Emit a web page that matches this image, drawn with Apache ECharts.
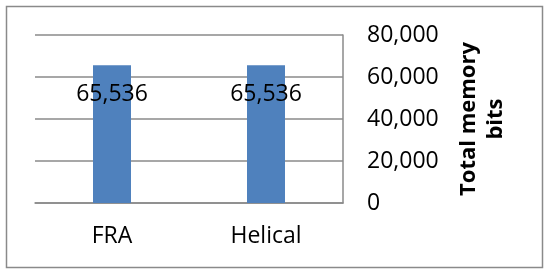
<!DOCTYPE html>
<html>
<head>
<meta charset="utf-8">
<script src="https://cdn.jsdelivr.net/npm/echarts@6/dist/echarts.min.js"></script>
<style>
  html, body { margin: 0; padding: 0; background: #fff; }
  #chart { width: 550px; height: 275px; }
</style>
</head>
<body>
<div id="chart"></div>
<script>
const categories = ['FRA', 'Helical']
const memoryBits = [65536, 65536]
const yMin = 0
const yMax = 80000
const yStep = 20000

const font = "'Open Sans', 'Liberation Sans', sans-serif"
const lineColor = '#8a8a8a'
const fmt = v => v.toLocaleString('en-US')

const chart = echarts.init(document.getElementById('chart'))
chart.setOption({
  animation: false,
  graphic: [{
    type: 'rect',
    shape: { x: 6.5, y: 6.5, width: 536, height: 261 },
    style: { fill: null, stroke: lineColor, lineWidth: 1.5 }
  }],
  grid: { left: 35, right: 207, top: 35, bottom: 72 },
  xAxis: {
    type: 'category',
    data: categories,
    axisLine: { show: true, lineStyle: { color: lineColor, width: 1.5 } },
    axisTick: { show: false },
    axisLabel: { color: '#000', fontFamily: font, fontSize: 23, margin: 22 }
  },
  yAxis: {
    type: 'value',
    position: 'right',
    min: yMin,
    max: yMax,
    interval: yStep,
    axisLine: { show: true, lineStyle: { color: lineColor, width: 1.5 } },
    axisTick: { show: false },
    splitLine: { lineStyle: { color: lineColor, width: 1.5 } },
    axisLabel: { color: '#000', fontFamily: font, fontSize: 23, margin: 24, formatter: fmt },
    name: 'Total memory\nbits',
    nameLocation: 'middle',
    nameRotate: 90,
    nameGap: 112,
    nameTextStyle: { color: '#000', fontFamily: font, fontSize: 22, fontWeight: 'bold', lineHeight: 27, align: 'center' }
  },
  series: [{
    type: 'bar',
    data: memoryBits,
    barWidth: 38,
    itemStyle: { color: '#4f81bd' },
    label: {
      show: true,
      position: 'insideTop',
      distance: 18,
      color: '#000',
      fontFamily: font,
      fontSize: 23,
      formatter: p => fmt(p.value)
    }
  }]
})
</script>
</body>
</html>
